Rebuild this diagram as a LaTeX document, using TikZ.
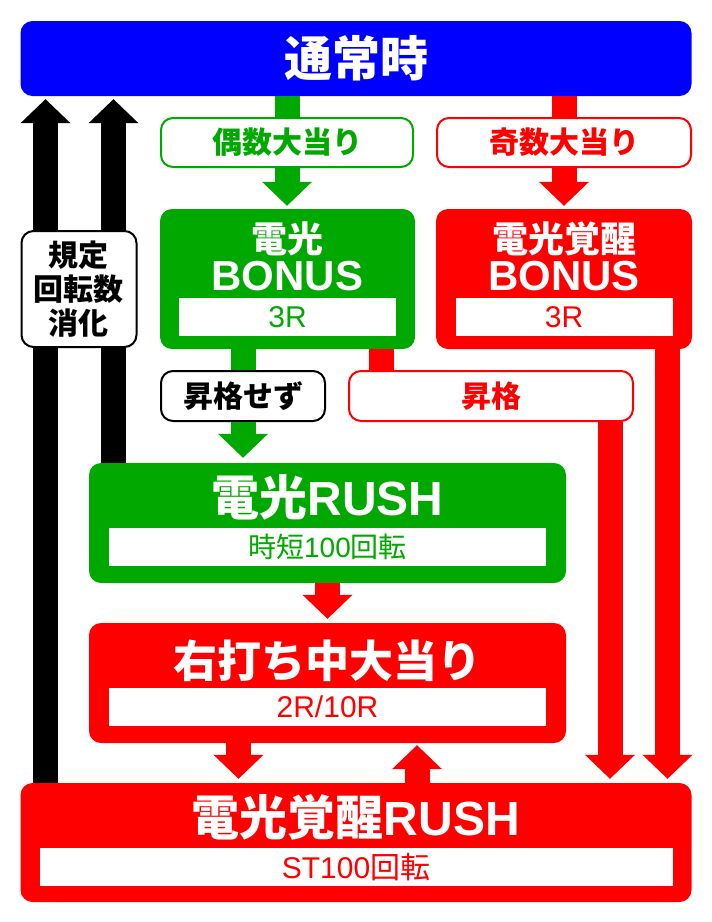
\documentclass[tikz,border=0pt]{standalone}
\usepackage{fontspec}
\setmainfont{Liberation Sans}
\newfontfamily\jp{Noto Sans CJK JP}
\usetikzlibrary{arrows.meta,backgrounds}
\definecolor{grn}{RGB}{0,168,0}
\definecolor{rd}{RGB}{255,0,0}
\definecolor{bl}{RGB}{0,0,255}

\begin{document}
\begin{tikzpicture}[x=1pt, y=-1pt,
    bigbox/.style = {rounded corners=12pt, inner sep=0pt},
    tagbox/.style = {draw, line width=2pt, fill=white, rounded corners=12pt, inner sep=0pt, font=\bfseries\fontsize{30}{34}\selectfont\jp},
    strip/.style = {fill=white, minimum height=38pt, inner sep=0pt, font=\fontsize{30}{30}\selectfont},
    title/.style = {text=white, anchor=base, inner sep=0pt, font=\bfseries\fontsize{48}{48}\selectfont},
    shaft/.style = {line width=25pt},
    arr/.style = {line width=25pt, -{Triangle[length=24pt, width=50pt, line width=0pt]}}]
    \useasboundingbox (0,0) rectangle (712,922);

    \node[bigbox, fill=bl, minimum width=671pt, minimum height=75pt, text=white, font=\bfseries\fontsize{48}{48}\selectfont\jp] (normal) at (356,58.5) {通常時};

    \node[tagbox, draw=grn, text=grn, minimum width=252pt, minimum height=49pt] (even) at (287,142.5) {偶数大当り};
    \node[tagbox, draw=rd, text=rd, minimum width=254pt, minimum height=49pt] (odd) at (564,142.5) {奇数大当り};

    % bonus
    \node[bigbox, fill=grn, minimum width=255pt, minimum height=140pt] (gbonus) at (287.5,279) {};
    \node[title, font=\bfseries\fontsize{36}{36}\selectfont\jp] (gbonusA) at (287.5,252) {電光};
    \node[title, font=\bfseries\fontsize{42}{42}\selectfont] (gbonusB) at (287.5,290) {BONUS};
    \node[strip, text=grn, minimum width=217pt] (gbonusR) at (287.5,317) {3R};

    \node[bigbox, fill=rd, minimum width=256pt, minimum height=140pt] (rbonus) at (564,279) {};
    \node[title, font=\bfseries\fontsize{36}{36}\selectfont\jp] (rbonusA) at (564,252) {電光覚醒};
    \node[title, font=\bfseries\fontsize{42}{42}\selectfont] (rbonusB) at (564,290) {BONUS};
    \node[strip, text=rd, minimum width=217pt] (rbonusR) at (564,317) {3R};

    \node[tagbox, draw=black, minimum width=115pt, minimum height=116pt, align=center] (count) at (79,289) {規定\\回転数\\消化};

    \node[tagbox, draw=black, minimum width=164pt, minimum height=50pt] (stay) at (243,396) {昇格せず};
    \node[tagbox, draw=rd, text=rd, minimum width=284pt, minimum height=50pt] (up) at (491,396) {昇格};

    % rush
    \node[bigbox, fill=grn, minimum width=477pt, minimum height=120pt] (grush) at (327.5,523) {};
    \node[title] (grushT) at (327.5,515) {{\jp 電光}RUSH};
    \node[strip, text=grn, minimum width=437pt, font=\fontsize{28}{28}\selectfont] (grushR) at (327.5,547) {{\jp 時短}100{\jp 回転}};

    \node[bigbox, fill=rd, minimum width=477pt, minimum height=120pt] (hit) at (327.5,683) {};
    \node[title, font=\bfseries\fontsize{44}{44}\selectfont\jp] (hitT) at (327.5,677) {右打ち中大当り};
    \node[strip, text=rd, minimum width=437pt] (hitR) at (327.5,707) {2R/10R};

    \node[bigbox, fill=rd, minimum width=671pt, minimum height=119pt] (wrush) at (356,842.5) {};
    \node[title] (wrushT) at (356,835) {{\jp 電光覚醒}RUSH};
    \node[strip, text=rd, minimum width=633pt] (wrushR) at (356,867) {ST100{\jp 回転}};

    \coordinate (k1) at ([xshift=-33.5pt]count.center);
    \coordinate (k2) at ([xshift=34.5pt]count.center);
    \coordinate (g1) at ([xshift=93.5pt]gbonus.south);
    \coordinate (u1) at ([xshift=119pt]up.south);
    \coordinate (r1) at ([xshift=103.5pt]rbonus.south);
    \coordinate (h1) at ([xshift=-89pt]hit.south);
    \coordinate (h2) at ([xshift=89.5pt]hit.south);

    \begin{scope}[on background layer]
    \draw[arr, black, shorten >=3pt] (k1 |- wrush.north) -- (k1 |- normal.south);
    \draw[arr, black, shorten >=3pt] (k2 |- grush.north) -- (k2 |- normal.south);
    \end{scope}

    \draw[shaft, grn] (even.north |- normal.south) -- (even.north);
    \draw[arr, grn, shorten >=3pt] (even.south) -- (even.south |- gbonus.north);
    \draw[shaft, rd] (odd.north |- normal.south) -- (odd.north);
    \draw[arr, rd, shorten >=3pt] (odd.south) -- (odd.south |- rbonus.north);

    \draw[shaft, grn] (stay.north |- gbonus.south) -- (stay.north);
    \draw[arr, grn, shorten >=5pt] (stay.south) -- (stay.south |- grush.north);
    \draw[shaft, rd] (g1) -- (g1 |- up.north);
    \draw[arr, rd, shorten >=4pt] (u1) -- (u1 |- wrush.north);
    \draw[arr, rd, shorten >=4pt] (r1) -- (r1 |- wrush.north);

    \draw[arr, rd, shorten >=4pt] (grush.south) -- (hit.north);
    \draw[arr, rd, shorten >=4pt] (h1) -- (h1 |- wrush.north);
    \draw[arr, rd, shorten >=2pt] (h2 |- wrush.north) -- (h2);
\end{tikzpicture}
\end{document}
